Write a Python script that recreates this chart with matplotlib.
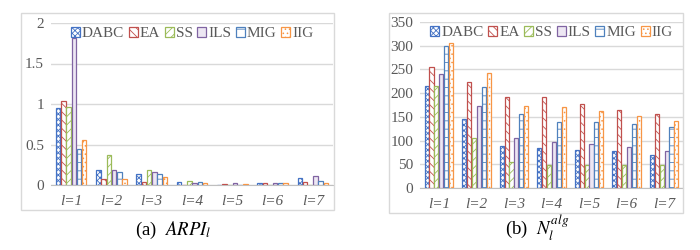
import matplotlib
matplotlib.use("Agg")
import numpy as np
import matplotlib.pyplot as plt
from matplotlib.patches import Rectangle

plt.rcParams['font.family'] = ['Liberation Serif', 'DejaVu Serif']
plt.rcParams['mathtext.fontset'] = 'stix'
plt.rcParams['hatch.linewidth'] = 0.6

categories = ["l=1", "l=2", "l=3", "l=4", "l=5", "l=6", "l=7"]
algs = ["DABC", "EA", "SS", "ILS", "MIG", "IIG"]

arpi_dabc = [0.95, 0.19, 0.13, 0.04, 0.0, 0.02, 0.09]
arpi_ea = [1.04, 0.07, 0.04, 0.0, 0.015, 0.03, 0.04]
arpi_ss = [0.96, 0.37, 0.18, 0.05, 0.0, 0.0, 0.0]
arpi_ils = [1.82, 0.18, 0.16, 0.03, 0.02, 0.03, 0.11]
arpi_mig = [0.45, 0.16, 0.14, 0.04, 0.0, 0.02, 0.05]
arpi_iig = [0.56, 0.08, 0.10, 0.02, 0.015, 0.03, 0.03]

nalg_dabc = [216, 146, 89, 84, 81, 78, 70]
nalg_ea = [255, 223, 192, 191, 177, 164, 155]
nalg_ss = [216, 105, 55, 49, 49, 49, 49]
nalg_ils = [240, 172, 105, 97, 92, 86, 78]
nalg_mig = [300, 214, 157, 140, 140, 134, 128]
nalg_iig = [305, 242, 172, 171, 163, 151, 141]

colors = ["#4472C4", "#C0504D", "#9BBB59", "#8064A2", "#4F81BD", "#F79646"]
faces = ["white", "white", "white", "#EDE7F3", "white", "white"]
hatches = ["xxxxxx", "\\\\\\\\", "////", "", "--", "...."]

W, H = 700, 250
fig = plt.figure(figsize=(7, 2.5), dpi=100)


def panel(rect, series, ylim, yticks, yticklabels):
    ax = fig.add_axes(rect)
    x = np.arange(len(categories))
    for i, vals in enumerate(series):
        ax.bar(x + (i - 2.5) * 0.13, vals, width=0.11, color=faces[i],
               edgecolor=colors[i], hatch=hatches[i], linewidth=0.9,
               label=algs[i], zorder=3)
    ax.set_xlim(-0.5, len(categories) - 0.5)
    ax.set_ylim(*ylim)
    ax.set_yticks(yticks)
    ax.set_yticklabels(yticklabels)
    ax.set_xticks(x)
    ax.set_xticklabels(categories, style='italic')
    ax.grid(axis='y', color='#d9d9d9', linewidth=1, zorder=0)
    for s in ['top', 'right', 'left']:
        ax.spines[s].set_visible(False)
    ax.spines['bottom'].set_color('#bfbfbf')
    ax.tick_params(length=0, labelsize=11, colors='#595959', pad=5)
    ax.tick_params(axis='x', pad=7)
    leg = ax.legend(loc='center', bbox_to_anchor=(0.5, 0.935), ncol=6,
                    frameon=False, fontsize=11, handlelength=0.6,
                    handleheight=0.6, handletextpad=0.12, columnspacing=0.3,
                    borderaxespad=0)
    for t in leg.get_texts():
        t.set_color('#595959')
    return ax


# left panel
panel([51 / W, 1 - 185 / H, 282 / W, 162 / H],
      [arpi_dabc, arpi_ea, arpi_ss, arpi_ils, arpi_mig, arpi_iig],
      (0, 2), [0, 0.5, 1, 1.5, 2], ["0", "0.5", "1", "1.5", "2"])

# right panel
panel([420 / W, 1 - 188 / H, 263 / W, 166 / H],
      [nalg_dabc, nalg_ea, nalg_ss, nalg_ils, nalg_mig, nalg_iig],
      (0, 350), list(range(0, 351, 50)), [str(v) for v in range(0, 351, 50)])

# panel borders
fig.patches.append(Rectangle((21 / W, 1 - 210 / H), 313 / W, 197 / H,
                             transform=fig.transFigure, fill=False,
                             edgecolor='#d9d9d9', linewidth=1))
fig.patches.append(Rectangle((389 / W, 1 - 213 / H), 294 / W, 200 / H,
                             transform=fig.transFigure, fill=False,
                             edgecolor='#d9d9d9', linewidth=1))

fig.text(173 / W, 1 - 230 / H, r"(a)  $ARPI_l$", ha='center', va='center',
         fontsize=13.5)
fig.text(537 / W, 1 - 228 / H, r"(b)  $N_l^{alg}$", ha='center', va='center',
         fontsize=13.5)

fig.savefig("out.png", dpi=100)
